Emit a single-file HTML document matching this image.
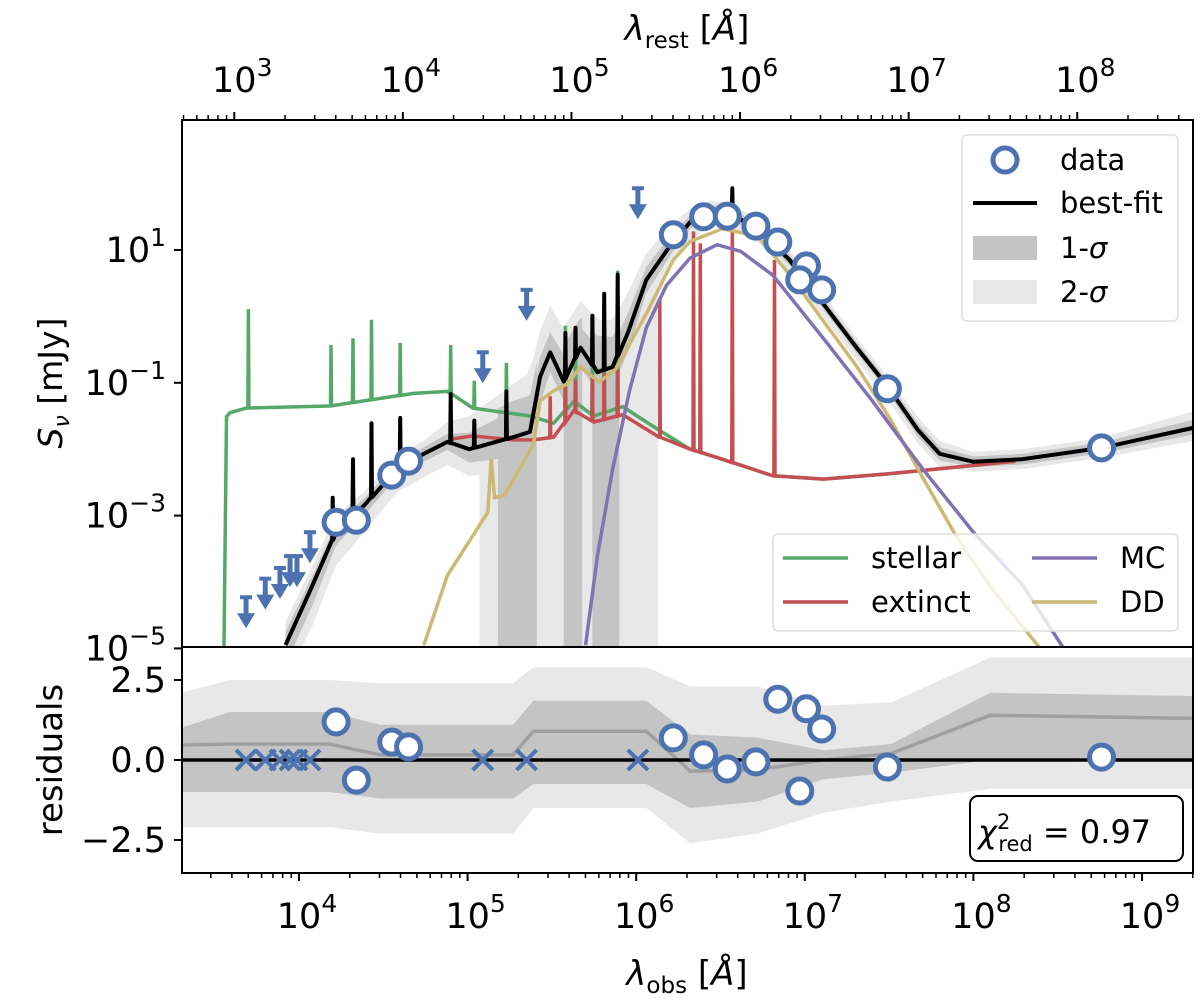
<!DOCTYPE html>
<html><head><meta charset="utf-8"><style>
html,body{margin:0;padding:0;background:#fff;}
svg{display:block;font-family:"DejaVu Sans","Liberation Sans",sans-serif;}
</style></head><body>
<svg id="chart" width="1200" height="1001" viewBox="0 0 1200 1001" xmlns="http://www.w3.org/2000/svg">
<defs>
<clipPath id="cu"><rect x="182" y="120" width="1011" height="527"/></clipPath>
<clipPath id="cl"><rect x="182" y="647" width="1011" height="226"/></clipPath>
</defs>
<g id="upper" clip-path="url(#cu)"></g>
<g id="lower" clip-path="url(#cl)"></g>
<g id="axes"></g>
<g id="marks"></g>
<g>
 <rect x="962" y="135" width="216" height="186" rx="5" fill="#fff" fill-opacity="0.8" stroke="#ddd" stroke-width="1.5"/>
 <circle cx="1005" cy="160" r="12" fill="#fff" stroke="#4c72b0" stroke-width="5"/>
 <text x="1060" y="170" font-size="29">data</text>
 <line x1="973" y1="203" x2="1037" y2="203" stroke="#000" stroke-width="4"/>
 <text x="1060" y="213" font-size="29">best-fit</text>
 <rect x="973" y="236" width="64" height="24" fill="#c4c4c4"/>
 <text x="1060" y="258" font-size="29">1-<tspan font-style="italic">σ</tspan></text>
 <rect x="973" y="280" width="64" height="24" fill="#e8e8e8"/>
 <text x="1060" y="302" font-size="29">2-<tspan font-style="italic">σ</tspan></text>
</g>
<g>
 <rect x="773" y="534" width="405" height="97" rx="5" fill="#fff" fill-opacity="0.8" stroke="#ddd" stroke-width="1.5"/>
 <line x1="783" y1="558" x2="848" y2="558" stroke="#55a868" stroke-width="3.5"/>
 <text x="871" y="568" font-size="29">stellar</text>
 <line x1="783" y1="602" x2="848" y2="602" stroke="#c44e52" stroke-width="3.5"/>
 <text x="871" y="612" font-size="29">extinct</text>
 <line x1="1032" y1="558" x2="1097" y2="558" stroke="#8172b2" stroke-width="3.5"/>
 <text x="1120" y="568" font-size="29">MC</text>
 <line x1="1032" y1="602" x2="1097" y2="602" stroke="#ccb974" stroke-width="3.5"/>
 <text x="1120" y="612" font-size="29">DD</text>
</g>
<g>
 <rect x="970" y="796" width="213" height="65" rx="8" fill="#fff" stroke="#000" stroke-width="2"/>
 <text x="978" y="843" font-size="32"><tspan font-style="italic">χ</tspan><tspan font-size="21" dy="-14">2</tspan><tspan font-size="21" dx="-12" dy="22">red</tspan><tspan dy="-8"> = 0.97</tspan></text>
</g>
<text x="0" y="0" font-size="33" transform="translate(62,383) rotate(-90)" text-anchor="middle"><tspan font-style="italic">S</tspan><tspan font-size="22" font-style="italic" dy="7">ν</tspan><tspan dy="-7"> [mJy]</tspan></text>
<text x="0" y="0" font-size="34" transform="translate(62,760) rotate(-90)" text-anchor="middle">residuals</text>
<text x="687" y="985" font-size="34" text-anchor="middle"><tspan font-style="italic">λ</tspan><tspan font-size="23" dy="8">obs</tspan><tspan dy="-8"> [</tspan><tspan font-style="italic">Å</tspan><tspan>]</tspan></text>
<text x="687" y="40" font-size="34" text-anchor="middle"><tspan font-style="italic">λ</tspan><tspan font-size="23" dy="8">rest</tspan><tspan dy="-8"> [</tspan><tspan font-style="italic">Å</tspan><tspan>]</tspan></text>
</svg>
<script>
const detLogLam = [4.22,4.34,4.55,4.65,6.22,6.40,6.54,6.71,6.84,7.01,6.97,7.10,7.49,8.76];
const detLogS   = [-3.10,-3.07,-2.39,-2.18,1.23,1.50,1.51,1.36,1.12,0.76,0.55,0.40,-1.09,-1.98];
const detResid  = [1.19,-0.63,0.56,0.41,0.69,0.16,-0.28,-0.06,1.9,1.6,-0.97,0.97,-0.22,0.09];
const ulLogLam  = [3.686,3.80,3.887,3.947,3.988,4.065,5.09,5.35,6.01];
const ulLogS    = [-4.23,-3.95,-3.79,-3.61,-3.61,-3.25,-0.54,0.40,1.93];
const bestLam = [3.92,4.08,4.22,4.40,4.58,4.74,4.88,5.01,5.27,5.37,5.43,5.49,5.57,5.67,5.77,5.86,5.95,6.06,6.20,6.32,6.44,6.56,6.72,6.91,7.11,7.31,7.49,7.67,7.80,8.0,8.29,8.76,9.30];
const bestS   = [-4.95,-4.05,-3.25,-2.81,-2.30,-2.07,-1.89,-2.0,-1.82,-1.74,-0.91,-0.54,-0.98,-0.47,-0.84,-0.76,-0.25,0.55,1.06,1.42,1.60,1.54,1.32,0.85,0.19,-0.48,-1.05,-1.71,-2.07,-2.19,-2.15,-1.98,-1.68];
const band2Up = [0.35,0.3,0.25,0.2,0.2,0.2,0.3,0.5,0.8,0.9,0.7,0.7,0.8,0.7,0.8,0.7,0.6,0.4,0.3,0.2,0.15,0.15,0.15,0.15,0.15,0.15,0.15,0.2,0.2,0.15,0.15,0.15,0.25];
const band2Lo = [0.6,0.6,0.5,0.4,0.35,0.35,0.35,0.4,0.5,0.5,0.5,0.5,0.5,0.5,0.5,0.5,0.5,0.4,0.3,0.3,0.2,0.2,0.2,0.2,0.2,0.2,0.2,0.2,0.2,0.15,0.15,0.15,0.2];
const band1Up = [0.2,0.15,0.12,0.1,0.1,0.1,0.12,0.25,0.4,0.4,0.3,0.3,0.4,0.3,0.4,0.3,0.3,0.2,0.15,0.1,0.08,0.08,0.08,0.08,0.08,0.08,0.08,0.1,0.1,0.08,0.08,0.08,0.12];
const band1Lo = [0.3,0.3,0.2,0.15,0.12,0.12,0.12,0.2,0.3,0.4,0.4,0.3,0.3,0.3,0.3,0.3,0.3,0.2,0.15,0.1,0.08,0.08,0.08,0.08,0.08,0.08,0.08,0.1,0.1,0.08,0.08,0.08,0.1];
const bestSpikeLam = [4.20,4.32,4.43,4.60,4.90,5.04,5.23,5.58,5.64,5.74,5.81,5.89,6.57];
const bestSpikeS   = [-2.73,-2.15,-1.61,-1.53,-1.17,-1.57,-1.13,-0.25,-0.17,0.01,0.34,0.63,1.93];
const stelLam = [3.545,3.555,3.57,3.59,3.69,4.18,4.68,4.88,5.03,5.37,5.51,5.63,5.75,5.92,6.14,6.32,6.51,6.81,7.11,7.50,8.10];
const stelS   = [-5.2,-4.95,-1.51,-1.45,-1.38,-1.35,-1.16,-1.13,-1.38,-1.50,-1.61,-1.28,-1.50,-1.36,-1.72,-2.0,-2.15,-2.40,-2.45,-2.37,-2.22];
const stelSpikeLam = [3.70,4.19,4.32,4.43,4.60,4.90,5.04,5.23,5.58,5.64,5.74,5.81,5.89];
const stelSpikeS   = [0.11,-0.43,-0.33,-0.05,-0.40,-0.43,-0.97,-0.70,-0.14,-0.21,-0.04,0.33,0.69];
const extLam = [4.90,5.03,5.27,5.39,5.51,5.63,5.75,5.92,6.14,6.32,6.51,6.81,7.11,7.50,8.10,8.25];
const extS   = [-1.85,-1.80,-1.86,-1.86,-1.82,-1.42,-1.59,-1.48,-1.82,-2.0,-2.15,-2.40,-2.45,-2.37,-2.22,-2.18];
const extSpikeLam = [5.49,5.58,5.64,5.74,5.81,5.89,6.14,6.34,6.38,6.57,6.82];
const extSpikeS   = [-1.20,-1.0,-0.95,-0.90,-0.85,-0.80,0.26,1.28,1.10,1.28,0.85];
const ddLam = [4.74,4.88,5.12,5.14,5.16,5.22,5.39,5.43,5.51,5.59,5.67,5.78,5.88,6.06,6.22,6.32,6.51,6.72,6.91,7.11,7.31,7.51,7.70,7.90,8.10,8.39];
const ddS   = [-4.95,-3.9,-2.95,-2.15,-2.73,-2.69,-1.93,-1.27,-1.12,-1.02,-0.76,-0.99,-0.79,0.04,0.85,1.13,1.32,1.21,0.63,-0.07,-0.76,-1.56,-2.43,-3.32,-4.07,-4.98];
const mcLam = [5.70,5.77,5.86,5.96,6.06,6.18,6.32,6.48,6.62,6.81,7.11,7.40,7.70,8.0,8.29,8.53];
const mcS   = [-4.95,-3.61,-2.30,-1.12,-0.17,0.47,0.88,1.08,0.98,0.62,-0.33,-1.27,-2.30,-3.25,-4.04,-4.98];
const blockLam0 = [5.07,5.18,5.57,5.74];
const blockLam1 = [6.13,5.41,5.68,5.90];
const blockDark = [0,1,1,1];
const resKnots = [3.30,3.59,4.18,4.48,5.27,5.39,6.06,6.32,6.72,7.11,7.51,8.10,9.30];
const resUp2 = [2.1,2.5,2.5,2.4,2.4,2.9,2.9,2.3,2.3,1.7,1.8,3.2,3.2];
const resUp1 = [1.0,1.5,1.5,1.1,1.1,1.85,1.85,0.8,0.7,0.3,0.5,2.1,2.0];
const resMed = [0.47,0.5,0.5,0.16,0.16,0.9,0.9,-0.35,-0.3,0.0,0.2,1.4,1.3];
const resLo1 = [-1.0,-1.0,-1.0,-1.2,-1.2,-0.75,-0.75,-1.5,-1.3,-0.6,-0.4,0.0,0.0];
const resLo2 = [-2.1,-2.1,-2.1,-2.3,-2.3,-1.5,-1.5,-2.6,-2.3,-1.65,-1.3,-0.9,-0.9];
const xTickExp = [4,5,6,7,8,9];
const topTickExp = [3,4,5,6,7,8];
const yTickExp = [1,-1,-3,-5];
const rTicks = [2.5,0.0,-2.5];
const rTickLabels = ["2.5","0.0","\u22122.5"];
const restShift = 0.616;

const X = l => 299 + (l - 4) * 168.6;
const YU = s => 250 - (s - 1) * 66.4;
const YR = r => 760 - r * 32;
const NS = "http://www.w3.org/2000/svg";
function mk(tag, parent, attrs){const e=document.createElementNS(NS,tag);for(const k in attrs)e.setAttribute(k,attrs[k]);parent.appendChild(e);return e;}
function interp(xs, ys, x){ if(x<=xs[0])return ys[0]; for(let i=1;i<xs.length;i++){ if(x<=xs[i]){const t=(x-xs[i-1])/(xs[i]-xs[i-1]);return ys[i-1]+t*(ys[i]-ys[i-1]);} } return ys[ys.length-1]; }
function withSpikes(lam, s, sl, ss){
  const pts = lam.map((l,i)=>[l,s[i]]);
  sl.forEach((l,i)=>{const b=interp(lam,s,l);pts.push([l-0.003,b],[l,ss[i]],[l+0.003,b]);});
  pts.sort((a,b)=>a[0]-b[0]); return pts;
}
function pathU(pts){return pts.map((p,i)=>(i?'L':'M')+X(p[0]).toFixed(1)+','+YU(p[1]).toFixed(1)).join('');}

const up = document.getElementById('upper'), lo = document.getElementById('lower'), ax = document.getElementById('axes'), mkG = document.getElementById('marks');

function bandPath(offUp, offLo){
  let d = bestLam.map((l,i)=>(i?'L':'M')+X(l).toFixed(1)+','+YU(bestS[i]+offUp[i]).toFixed(1)).join('');
  for(let i=bestLam.length-1;i>=0;i--) d += 'L'+X(bestLam[i]).toFixed(1)+','+YU(bestS[i]-offLo[i]).toFixed(1);
  return d+'Z';
}
let e;
e = mk('path', up, {d: bandPath(band2Up,band2Lo), fill:'#e8e8e8'});


blockLam0.forEach((l0,i)=>{
  const l1 = blockLam1[i];
  const arr = blockDark[i] ? band1Up : band2Up;
  const extra = blockDark[i] ? 0.15 : 0;
  let d = '';
  const n = 30;
  for(let k=0;k<=n;k++){const l=l0+(l1-l0)*k/n; d+=(k?'L':'M')+X(l).toFixed(1)+','+YU(interp(bestLam,bestS,l)+interp(bestLam,arr,l)+extra).toFixed(1);}
  d += 'L'+X(l1).toFixed(1)+',660L'+X(l0).toFixed(1)+',660Z';
  const r = mk('path', up, {d:d, fill: blockDark[i] ? '#c4c4c4' : '#e8e8e8'});
  
  
});
e = mk('path', up, {d: bandPath(band1Up,band1Lo), fill:'#c4c4c4'});



e = mk('path', up, {d: pathU(withSpikes(stelLam,stelS,stelSpikeLam,stelSpikeS)), fill:'none', stroke:'#55a868', 'stroke-width':3.5});


e = mk('path', up, {d: pathU(withSpikes(extLam,extS,extSpikeLam,extSpikeS)), fill:'none', stroke:'#c44e52', 'stroke-width':3.5});


e = mk('path', up, {d: pathU(ddLam.map((l,i)=>[l,ddS[i]])), fill:'none', stroke:'#ccb974', 'stroke-width':3.5});


e = mk('path', up, {d: pathU(mcLam.map((l,i)=>[l,mcS[i]])), fill:'none', stroke:'#8172b2', 'stroke-width':3.5});


e = mk('path', up, {d: pathU(withSpikes(bestLam,bestS,bestSpikeLam,bestSpikeS)), fill:'none', stroke:'#000', 'stroke-width':4, 'stroke-linejoin':'round'});



function resBand(a,b){
  let d = resKnots.map((l,i)=>(i?'L':'M')+X(l)+','+YR(a[i])).join('');
  for(let i=resKnots.length-1;i>=0;i--) d+='L'+X(resKnots[i])+','+YR(b[i]);
  return d+'Z';
}
e = mk('path', lo, {d: resBand(resUp2,resLo2), fill:'#e8e8e8'});


e = mk('path', lo, {d: resBand(resUp1,resLo1), fill:'#c4c4c4'});


e = mk('path', lo, {d: resKnots.map((l,i)=>(i?'L':'M')+X(l)+','+YR(resMed[i])).join(''), fill:'none', stroke:'#a0a0a0', 'stroke-width':3.5});


e = mk('line', lo, {x1:182, x2:1193, y1:YR(0), y2:YR(0), stroke:'#000', 'stroke-width':3.5});



ulLogLam.forEach((l,i)=>{
  const x = X(l), y = YU(ulLogS[i]);
  const g = mk('g', mkG, {fill:'#4c72b0', stroke:'none'});
  
  
  mk('rect', g, {x:x-6, y:y-2, width:12, height:4});
  mk('rect', g, {x:x-2.5, y:y, width:5, height:20});
  mk('path', g, {d:`M${x-9},${y+16}L${x+9},${y+16}L${x},${y+31}Z`});
  const c = mk('path', mkG, {d:`M${x-10},${YR(0)-10}L${x+10},${YR(0)+10}M${x-10},${YR(0)+10}L${x+10},${YR(0)-10}`, stroke:'#4c72b0', 'stroke-width':4});
  
  
});
detLogLam.forEach((l,i)=>{
  const c = mk('circle', mkG, {cx:X(l), cy:YU(detLogS[i]), r:12, fill:'#fff', stroke:'#4c72b0', 'stroke-width':5});
  
  
  const r = mk('circle', mkG, {cx:X(l), cy:YR(detResid[i]), r:12, fill:'#fff', stroke:'#4c72b0', 'stroke-width':5});
  
  
});

e = mk('rect', ax, {x:182, y:120, width:1011, height:753, fill:'none', stroke:'#000', 'stroke-width':2});


e = mk('line', ax, {x1:182, x2:1193, y1:647, y2:647, stroke:'#000', 'stroke-width':2});


function sup(parent, x, y, exp, name){
  const t = mk('text', parent, {x:x, y:y, 'font-size':35, 'text-anchor':'middle'});
  
  
  t.innerHTML = '10<tspan font-size="25" dy="-16">'+(exp<0?'\u2212'+(-exp):exp)+'</tspan>';
  return t;
}
for(let d=3; d<=9; d++){
  for(let m=1; m<=9; m++){
    const x = X(d + Math.log10(m));
    if(x<182||x>1193) continue;
    mk('line', ax, {x1:x, x2:x, y1:873, y2:873+(m===1?8:5), stroke:'#000', 'stroke-width':m===1?2:1.5});
  }
}
xTickExp.forEach(d=>{ sup(ax, X(d)+8, 928, d, 'x-tick-label'); });
for(let d=2; d<=9; d++){
  for(let m=1; m<=9; m++){
    const x = X(d + Math.log10(m) + restShift);
    if(x<182||x>1193) continue;
    mk('line', ax, {x1:x, x2:x, y1:120, y2:120-(m===1?8:5), stroke:'#000', 'stroke-width':m===1?2:1.5});
  }
}
topTickExp.forEach(d=>{ sup(ax, X(d+restShift)+8, 92, d, 'top-tick-label'); });
yTickExp.forEach(s=>{
  const y = YU(s);
  mk('line', ax, {x1:174, x2:182, y1:y, y2:y, stroke:'#000', 'stroke-width':2});
  const t = mk('text', ax, {x:166, y:y+12, 'font-size':35, 'text-anchor':'end'});
  
  
  t.innerHTML = '10<tspan font-size="25" dy="-16">'+(s<0?'\u2212'+(-s):s)+'</tspan>';
});
rTicks.forEach((r,i)=>{
  const y = YR(r);
  mk('line', ax, {x1:174, x2:182, y1:y, y2:y, stroke:'#000', 'stroke-width':2});
  const t = mk('text', ax, {x:166, y:y+12, 'font-size':35, 'text-anchor':'end'});
  
  
  t.textContent = rTickLabels[i];
});
</script>
</body></html>
